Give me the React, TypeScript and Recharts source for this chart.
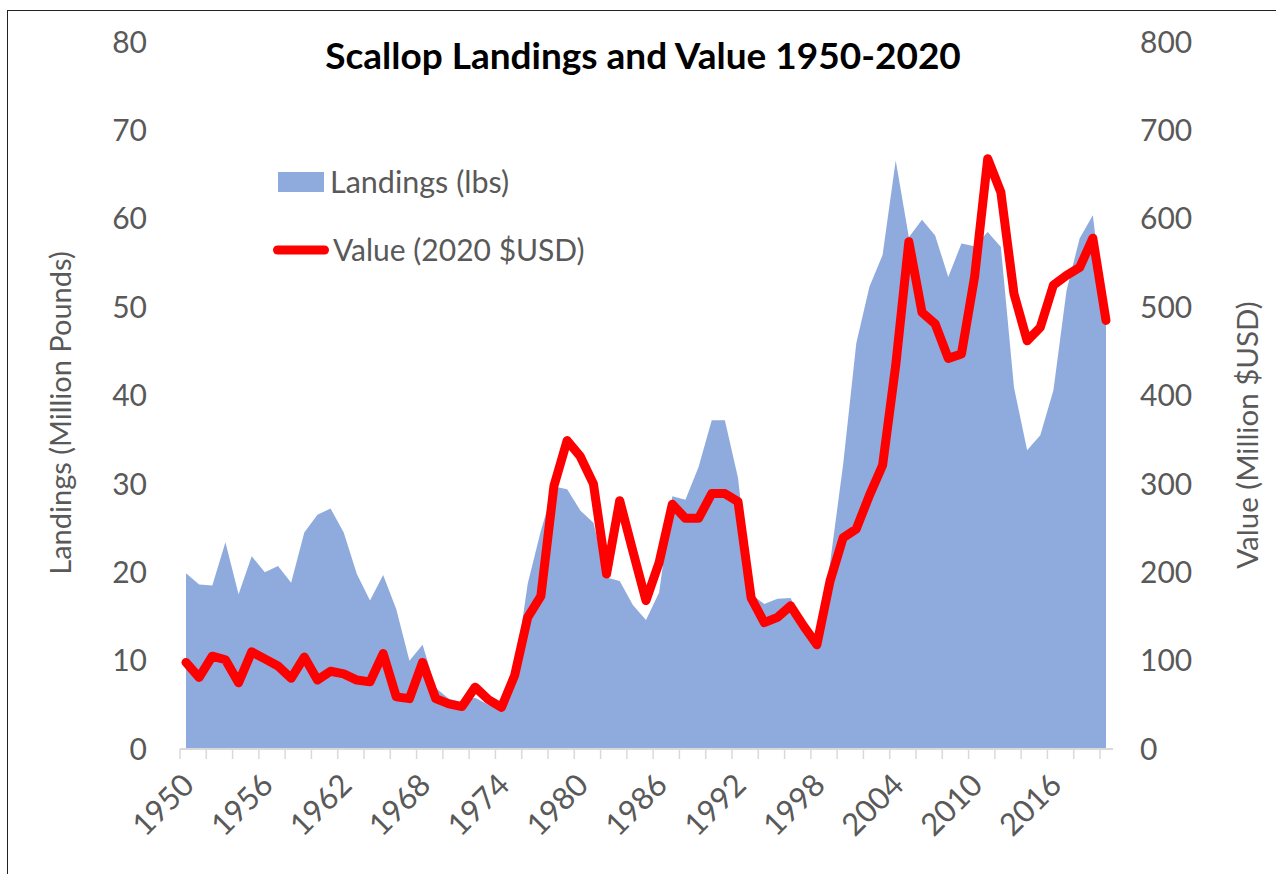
import React from "react";
import { ComposedChart, Area, Line, XAxis, YAxis, Legend } from "recharts";

const years = [
  1950, 1951, 1952, 1953, 1954, 1955, 1956, 1957, 1958, 1959,
  1960, 1961, 1962, 1963, 1964, 1965, 1966, 1967, 1968, 1969,
  1970, 1971, 1972, 1973, 1974, 1975, 1976, 1977, 1978, 1979,
  1980, 1981, 1982, 1983, 1984, 1985, 1986, 1987, 1988, 1989,
  1990, 1991, 1992, 1993, 1994, 1995, 1996, 1997, 1998, 1999,
  2000, 2001, 2002, 2003, 2004, 2005, 2006, 2007, 2008, 2009,
  2010, 2011, 2012, 2013, 2014, 2015, 2016, 2017, 2018, 2019,
  2020,
];

// Landings, million pounds (left axis)
const landings = [
  19.9, 18.6, 18.5, 23.4, 17.5, 21.8, 20.0, 20.7, 18.8, 24.5,
  26.5, 27.2, 24.5, 19.8, 16.8, 19.7, 15.8, 10.0, 11.8, 6.9,
  5.7, 5.3, 5.8, 5.0, 5.2, 8.5, 18.7, 24.7, 29.7, 29.4,
  27.0, 25.6, 19.4, 19.0, 16.3, 14.6, 17.7, 28.6, 28.2, 31.9,
  37.2, 37.2, 30.7, 17.5, 16.4, 17.0, 17.1, 14.0, 12.0, 21.0,
  32.2, 45.9, 52.3, 55.9, 66.6, 57.9, 59.9, 58.1, 53.4, 57.2,
  56.9, 58.5, 56.8, 40.9, 33.8, 35.5, 40.6, 51.9, 57.8, 60.4,
  48.0,
];

// Value, million 2020 USD (right axis)
const values = [
  98, 81, 105, 101, 75, 110, 102, 94, 80, 104,
  78, 88, 85, 78, 76, 108, 59, 57, 98, 57,
  51, 48, 70, 56, 47, 83, 149, 173, 298, 349,
  331, 300, 198, 281, 224, 168, 211, 277, 261, 261,
  289, 289, 280, 171, 143, 149, 162, 139, 118, 190,
  239, 249, 287, 321, 434, 574, 494, 481, 442, 447,
  534, 668, 630, 515, 462, 477, 525, 536, 545, 578,
  485,
];

const leftTicks = [0, 10, 20, 30, 40, 50, 60, 70, 80];
const rightTicks = [0, 100, 200, 300, 400, 500, 600, 700, 800];
const labelYears = [1950, 1956, 1962, 1968, 1974, 1980, 1986, 1992, 1998, 2004, 2010, 2016];

const data = years.map((y, i) => ({ year: y, landings: landings[i], value: values[i] }));

const FONT = "Lato, 'Open Sans', sans-serif";
const GREY = "#595959";
const BLUE = "#8FAADC";
const RED = "#FF0000";

const XTick = (props: any) => {
  const { x, y, payload } = props;
  const yr = Number(payload.value);
  const showLabel = labelYears.includes(yr);
  const tx = x + 10;
  const ty = y + 38;
  return (
    <g>
      {yr % 2 === 0 ? (
        <line x1={x - 6} x2={x - 6} y1={y} y2={y + 10} stroke="#D9D9D9" strokeWidth={1.5} />
      ) : null}
      {showLabel ? (
        <text
          x={tx}
          y={ty}
          transform={`rotate(-45, ${tx}, ${ty})`}
          textAnchor="end"
          fill={GREY}
          fontSize={31}
          fontFamily={FONT}
        >
          {yr}
        </text>
      ) : null}
    </g>
  );
};

const LegendContent = () => (
  <svg width={380} height={120} style={{ overflow: "visible" }}>
    <rect x={10} y={12} width={46} height={20} fill={BLUE} />
    <text x={62} y={33} fill={GREY} fontSize={30.5} fontFamily={FONT}>
      Landings (lbs)
    </text>
    <line x1={9.5} x2={56.5} y1={90} y2={90} stroke={RED} strokeWidth={9} strokeLinecap="round" />
    <text x={65} y={101} fill={GREY} fontSize={30} fontFamily={FONT}>
      Value (2020 $USD)
    </text>
  </svg>
);

const LeftTitle = () => (
  <text
    x={71}
    y={413}
    transform="rotate(-90, 71, 413)"
    textAnchor="middle"
    fill={GREY}
    fontSize={29}
    fontFamily={FONT}
  >
    Landings (Million Pounds)
  </text>
);

const RightTitle = () => (
  <text
    x={1258}
    y={435}
    transform="rotate(-90, 1258, 435)"
    textAnchor="middle"
    fill={GREY}
    fontSize={29.5}
    fontFamily={FONT}
  >
    Value (Million $USD)
  </text>
);

export default function App() {
  return (
    <div style={{ position: "absolute", left: 0, top: 0, width: 1276, height: 874, background: "#fff" }}>
      <div
        style={{
          position: "absolute",
          left: 7,
          top: 10,
          right: 0,
          bottom: 0,
          borderLeft: "1.5px solid #222",
          borderTop: "1.5px solid #222",
        }}
      />
      <ComposedChart
        width={1276}
        height={874}
        data={data}
        margin={{ top: 42, right: 0, bottom: 0, left: 0 }}
        style={{ position: "absolute", left: 0, top: 0 }}
      >
        <XAxis
          dataKey="year"
          type="category"
          interval={0}
          height={125}
          padding={{ left: 6, right: 7 }}
          axisLine={{ stroke: "#D9D9D9", strokeWidth: 2 }}
          tickLine={false}
          tickSize={0}
          tickMargin={0}
          tick={<XTick />}
        />
        <YAxis
          yAxisId="left"
          orientation="left"
          width={180}
          domain={[0, 80]}
          ticks={leftTicks}
          axisLine={false}
          tickLine={false}
          tickSize={0}
          tickMargin={33}
          tick={{ fill: GREY, fontSize: 30, fontFamily: FONT }}
          label={{ content: () => <LeftTitle /> }}
        />
        <YAxis
          yAxisId="right"
          orientation="right"
          width={163}
          domain={[0, 800]}
          ticks={rightTicks}
          axisLine={false}
          tickLine={false}
          tickSize={0}
          tickMargin={27}
          tick={{ fill: GREY, fontSize: 30, fontFamily: FONT, textAnchor: "start" }}
          label={{ content: () => <RightTitle /> }}
        />
        <Legend
          layout="vertical"
          align="center"
          verticalAlign="middle"
          wrapperStyle={{ position: "absolute", left: 268, top: 160, width: 380, height: 120 }}
          content={() => <LegendContent />}
        />
        <Area
          yAxisId="left"
          type="linear"
          dataKey="landings"
          fill={BLUE}
          fillOpacity={1}
          stroke="none"
          isAnimationActive={false}
        />
        <Line
          yAxisId="right"
          type="linear"
          dataKey="value"
          stroke={RED}
          strokeWidth={9}
          strokeLinejoin="round"
          strokeLinecap="round"
          dot={false}
          activeDot={false}
          isAnimationActive={false}
        />
      </ComposedChart>
      <div
        style={{
          position: "absolute",
          left: 0,
          width: 1286,
          top: 32,
          textAlign: "center",
          fontFamily: FONT,
          fontWeight: 700,
          fontSize: 37,
          color: "#000",
          lineHeight: "46px",
        }}
      >
        Scallop Landings and Value 1950-2020
      </div>
    </div>
  );
}
